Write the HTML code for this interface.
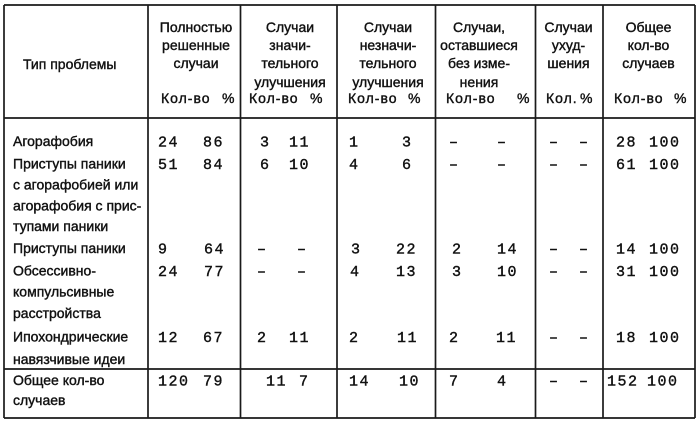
<!DOCTYPE html>
<html><head><meta charset="utf-8"><style>
html,body{margin:0;padding:0;background:#fff;}
svg{display:block;}
.t{font-family:"Liberation Sans","Noto Sans CJK SC",sans-serif;font-size:14px;fill:#111;stroke:#111;stroke-width:0.4;}
.n{font-family:"Liberation Mono",monospace;font-size:15px;fill:#111;letter-spacing:1.5px;stroke:#111;stroke-width:0.4;}
.c{text-anchor:middle;}
</style></head><body>
<svg width="700" height="426" viewBox="0 0 700 426" xmlns="http://www.w3.org/2000/svg">
<rect width="700" height="426" fill="#fff"/>
<g stroke="#1a1a1a" stroke-width="1.7" fill="none">
<line x1="4" y1="5" x2="695" y2="5"/>
<line x1="4" y1="118" x2="695" y2="118"/>
<line x1="4" y1="369" x2="695" y2="369"/>
<line x1="4" y1="418" x2="695" y2="418"/>
<line x1="4" y1="5" x2="4" y2="418"/>
<line x1="148" y1="5" x2="148" y2="418"/>
<line x1="240.5" y1="5" x2="240.5" y2="418"/>
<line x1="337" y1="5" x2="337" y2="418"/>
<line x1="435.5" y1="5" x2="435.5" y2="418"/>
<line x1="535.5" y1="5" x2="535.5" y2="418"/>
<line x1="603" y1="5" x2="603" y2="418"/>
<line x1="695" y1="5" x2="695" y2="418"/>
</g>

<!-- header -->
<text class="t" x="23" y="69">Тип проблемы</text>

<text class="t c" x="196" y="32">Полностью</text>
<text class="t c" x="196" y="50">решенные</text>
<text class="t c" x="196" y="68">случаи</text>

<text class="t c" x="290" y="32">Случаи</text>
<text class="t c" x="290" y="50">значи-</text>
<text class="t c" x="290" y="68">тельного</text>
<text class="t c" x="290" y="87">улучшения</text>

<text class="t c" x="388" y="32">Случаи</text>
<text class="t c" x="388" y="50">незначи-</text>
<text class="t c" x="388" y="68">тельного</text>
<text class="t c" x="388" y="87">улучшения</text>

<text class="t c" x="479" y="32">Случаи,</text>
<text class="t c" x="479" y="50">оставшиеся</text>
<text class="t c" x="479" y="68">без изме-</text>
<text class="t c" x="479" y="87">нения</text>

<text class="t c" x="568.5" y="32">Случаи</text>
<text class="t c" x="568.5" y="50">ухуд-</text>
<text class="t c" x="568.5" y="68">шения</text>

<text class="t c" x="648.5" y="32">Общее</text>
<text class="t c" x="648.5" y="50">кол-во</text>
<text class="t c" x="648.5" y="68">случаев</text>

<g class="t" style="letter-spacing:1px">
<text x="161" y="103">Кол-во</text><text x="222" y="103">%</text>
<text x="249" y="103">Кол-во</text><text x="310" y="103">%</text>
<text x="348" y="103">Кол-во</text><text x="408" y="103">%</text>
<text x="446" y="103">Кол-во</text><text x="517" y="103">%</text>
<text x="546" y="103">Кол.</text><text x="580" y="103">%</text>
<text x="614" y="103">Кол-во</text><text x="674" y="103">%</text>
</g>

<!-- row labels -->
<text class="t" x="13" y="146">Агорафобия</text>
<text class="t" x="13" y="168.5">Приступы паники</text>
<text class="t" x="13" y="189.5">с агорафобией или</text>
<text class="t" x="13" y="210.5">агорафобия с прис-</text>
<text class="t" x="13" y="231">тупами паники</text>
<text class="t" x="13" y="253">Приступы паники</text>
<text class="t" x="13" y="275.5">Обсессивно-</text>
<text class="t" x="13" y="296.5">компульсивные</text>
<text class="t" x="13" y="318">расстройства</text>
<text class="t" x="13" y="341.5">Ипохондрические</text>
<text class="t" x="13" y="364">навязчивые идеи</text>
<text class="t" x="13" y="385">Общее кол-во</text>
<text class="t" x="13" y="405">случаев</text>

<!-- numbers -->
<g class="n">
<text x="158" y="146.5">24</text><text x="203" y="146.5">86</text>
<text x="260" y="146.5">3</text><text x="289" y="146.5">11</text>
<text x="349" y="146.5">1</text><text x="402" y="146.5">3</text>
<text x="449" y="146.5">–</text><text x="497" y="146.5">–</text>
<text x="549" y="146.5">–</text><text x="579" y="146.5">–</text>
<text x="616" y="146.5">28</text><text x="649" y="146.5">100</text>

<text x="158" y="169">51</text><text x="203" y="169">84</text>
<text x="260" y="169">6</text><text x="289" y="169">10</text>
<text x="349" y="169">4</text><text x="402" y="169">6</text>
<text x="449" y="169">–</text><text x="497" y="169">–</text>
<text x="549" y="169">–</text><text x="579" y="169">–</text>
<text x="616" y="169">61</text><text x="649" y="169">100</text>

<text x="158" y="253.5">9</text><text x="204" y="253.5">64</text>
<text x="257" y="253.5">–</text><text x="297" y="253.5">–</text>
<text x="351" y="253.5">3</text><text x="396" y="253.5">22</text>
<text x="452" y="253.5">2</text><text x="497" y="253.5">14</text>
<text x="549" y="253.5">–</text><text x="579" y="253.5">–</text>
<text x="616" y="253.5">14</text><text x="649" y="253.5">100</text>

<text x="158" y="276">24</text><text x="204" y="276">77</text>
<text x="257" y="276">–</text><text x="297" y="276">–</text>
<text x="350" y="276">4</text><text x="396" y="276">13</text>
<text x="452" y="276">3</text><text x="497" y="276">10</text>
<text x="549" y="276">–</text><text x="579" y="276">–</text>
<text x="616" y="276">31</text><text x="649" y="276">100</text>

<text x="158" y="342">12</text><text x="203" y="342">67</text>
<text x="257" y="342">2</text><text x="289" y="342">11</text>
<text x="349" y="342">2</text><text x="397" y="342">11</text>
<text x="449" y="342">2</text><text x="496" y="342">11</text>
<text x="549" y="342">–</text><text x="579" y="342">–</text>
<text x="616" y="342">18</text><text x="649" y="342">100</text>

<text x="158" y="385.5">120</text><text x="203" y="385.5">79</text>
<text x="266" y="385.5">11</text><text x="299" y="385.5">7</text>
<text x="349" y="385.5">14</text><text x="399" y="385.5">10</text>
<text x="449" y="385.5">7</text><text x="497" y="385.5">4</text>
<text x="549" y="385.5">–</text><text x="579" y="385.5">–</text>
<text x="607" y="385.5">152</text><text x="647" y="385.5">100</text>
</g>
</svg>
</body></html>
